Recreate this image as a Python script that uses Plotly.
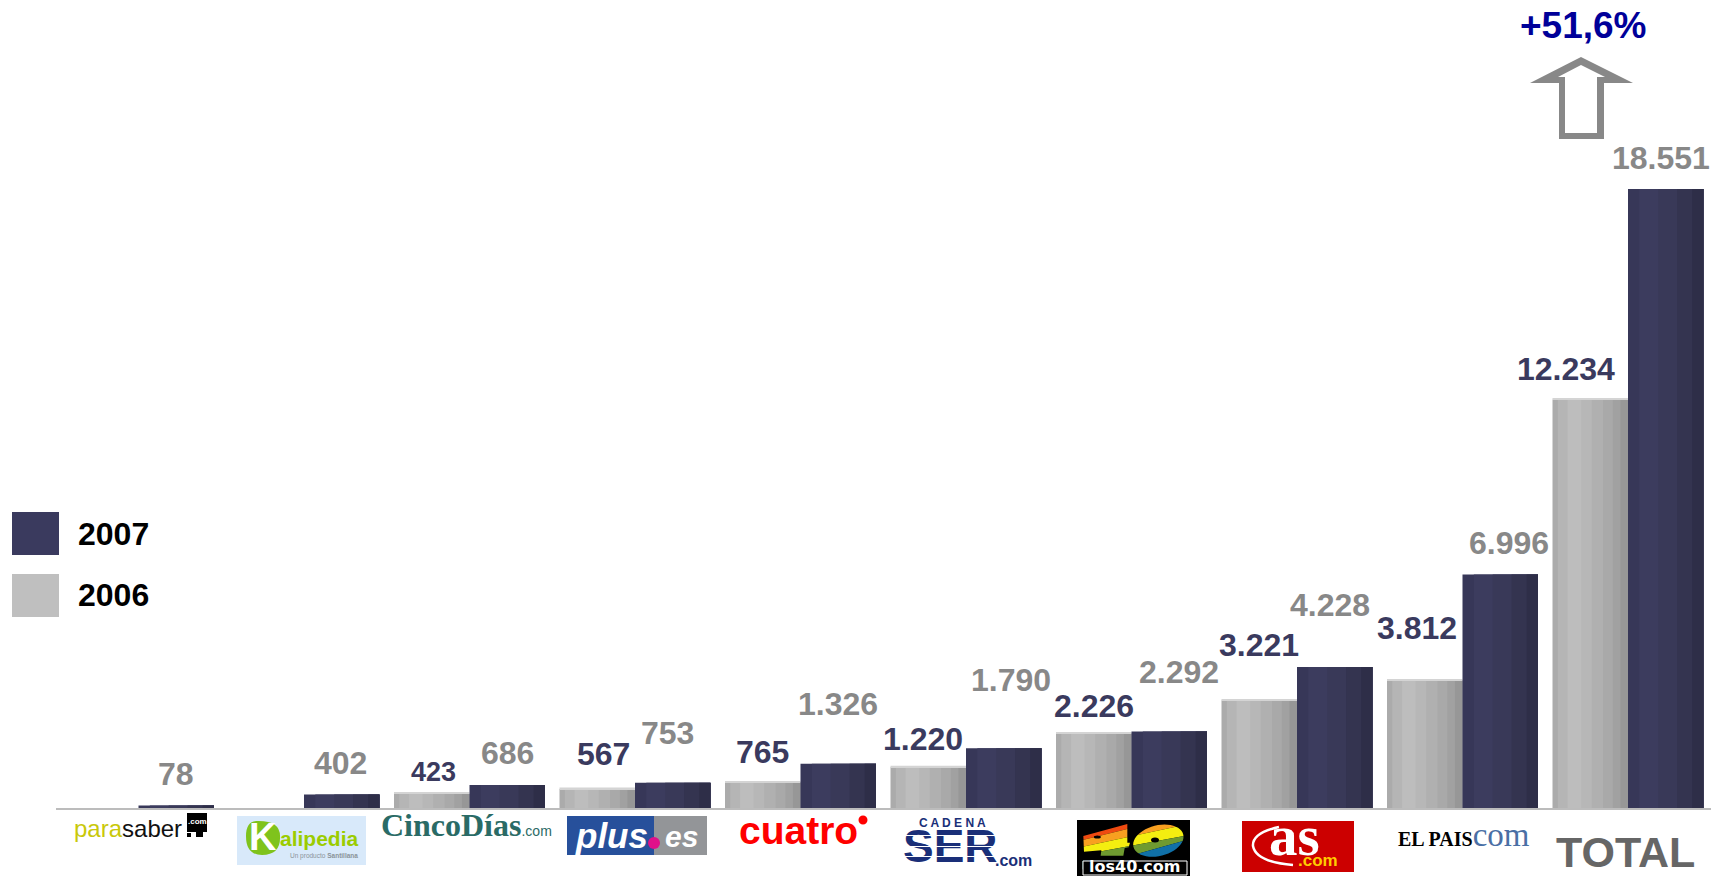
import numpy as np
import plotly.graph_objects as go

W, H = 1717, 876
categories = ["parasaber", "Kalipedia", "CincoDías", "plus.es", "cuatro", "SER", "los40", "as", "EL PAIS", "TOTAL"]
values_2006 = [None, None, 423, 567, 765, 1220, 2226, 3221, 3812, 12234]
values_2007 = [78, 402, 686, 753, 1326, 1790, 2292, 4228, 6996, 18551]
label_2006 = [None, None, "423", "567", "765", "1.220", "2.226", "3.221", "3.812", "12.234"]
label_2007 = ["78", "402", "686", "753", "1.326", "1.790", "2.292", "4.228", "6.996", "18.551"]

# label nudges in pixels (right, up) from the top centre of each bar
nudge_2006 = [None, None, (2, 22), (6, 35), (0, 30), (-5, 28), (0, 28), (0, 56), (-8, 53), (-24, 31)]
nudge_2007 = [(0, 31), (-1, 32), (0, 32), (-5, 50), (0, 60), (7, 68), (10, 60), (-5, 62), (9, 32), (-5, 31)]

BASE_Y, PLOT_L, PLOT_R = 808, 55.75, 1710.75
BAR = 75.5 / 165.5          # bar width in category units
YMAX = BASE_Y / 0.03337     # axis range so that the top of the plot is the page top

bands_2006 = [(0, "#ababab"), (.07, "#b5b5b5"), (.2, "#bdbdbd"), (.38, "#b7b7b7"),
              (.52, "#b0b0b0"), (.67, "#a9a9a9"), (.8, "#a1a1a1"), (.9, "#979797")]
bands_2007 = [(0, "#373758"), (.15, "#3c3c5e"), (.4, "#393958"), (.65, "#343450"), (.85, "#2e2e48")]
GREY, NAVY = "#888888", "#3a3a5e"
SANS = "Liberation Sans"
SERIF = "Liberation Serif"


def px(x):
    return x / W


def py(y):
    return 1 - y / H


def P(x, y):
    return f"{px(x):.5f},{py(y):.5f}"


def poly(points):
    return "M" + "L".join(P(x, y) for x, y in points) + "Z"


fig = go.Figure()
# each shade runs to the right end of the bar; the next shade paints over it, leaving no seams
for start, color in bands_2006:
    fig.add_bar(x=categories, y=values_2006, width=(1 - start) * BAR, offset=(start - 1) * BAR,
                marker=dict(color=color, line_width=0), hoverinfo="skip", showlegend=False)
cap_x = [c for c, v in zip(categories, values_2006) if v is not None]
cap_b = [v for v in values_2006 if v is not None]
fig.add_bar(x=cap_x, y=[45] * len(cap_x), base=cap_b, width=BAR, offset=-BAR,
            marker=dict(color="#d4d4d4", line_width=0), hoverinfo="skip", showlegend=False)
for start, color in bands_2007:
    fig.add_bar(x=categories, y=values_2007, width=(1 - start) * BAR, offset=start * BAR,
                marker=dict(color=color, line_width=0), hoverinfo="skip", showlegend=False)

ann = []


def text(x, y, t, size, color, family=SANS, bold=False, italic=False, anchor="center"):
    if bold:
        t = f"<b>{t}</b>"
    if italic:
        t = f"<i>{t}</i>"
    ann.append(dict(xref="paper", yref="paper", x=px(x), y=py(y), text=t, showarrow=False, xanchor=anchor,
                    yanchor="middle", font=dict(size=size, color=color, family=family),
                    borderpad=0, borderwidth=0))


for i, (v, t, n) in enumerate(zip(values_2007, label_2007, nudge_2007)):
    ann.append(dict(x=i + BAR / 2, y=v, xref="x", yref="y", text=f"<b>{t}</b>", showarrow=False, xanchor="center",
                    yanchor="middle", xshift=n[0], yshift=n[1], font=dict(size=32, color=GREY, family=SANS)))
for i, (v, t, n) in enumerate(zip(values_2006, label_2006, nudge_2006)):
    if v is None:
        continue
    ann.append(dict(x=i - BAR / 2, y=v, xref="x", yref="y", text=f"<b>{t}</b>", showarrow=False, xanchor="center",
                    yanchor="middle", xshift=n[0], yshift=n[1],
                    font=dict(size=27 if t == "423" else 32, color=NAVY, family=SANS)))

shapes = []


def rect(x0, y0, x1, y1, color):
    shapes.append(dict(type="rect", xref="paper", yref="paper", x0=px(x0), x1=px(x1), y0=py(y0), y1=py(y1),
                       fillcolor=color, line_width=0))


def path(d, fill=None, line=None, lw=0, rule="nonzero"):
    s = dict(type="path", xref="paper", yref="paper", path=d, line=dict(width=lw), fillrule=rule)
    if fill:
        s["fillcolor"] = fill
    if line:
        s["line"]["color"] = line
    shapes.append(s)


def circle(cx, cy, rx, ry, color):
    shapes.append(dict(type="circle", xref="paper", yref="paper", x0=px(cx - rx), x1=px(cx + rx),
                       y0=py(cy + ry), y1=py(cy - ry), fillcolor=color, line_width=0))


# legend
rect(12, 512, 59, 555, "#3a3a5e")
rect(12, 574, 59, 617, "#bfbfbf")
text(78, 534, "2007", 32, "#000000", bold=True, anchor="left")
text(78, 595, "2006", 32, "#000000", bold=True, anchor="left")

# growth arrow
outer = [(1581, 57), (1633, 83), (1604, 83), (1604, 139), (1559, 139), (1559, 83), (1530, 83)]
inner = [(1581, 65), (1605, 77), (1597, 77), (1597, 133), (1565, 133), (1565, 77), (1558, 77)]
path(poly(outer) + poly(inner), fill="#888888", rule="evenodd")
text(1583, 26, "+51,6%", 37, "#000099", bold=True)

# parasaber
text(128, 828, "<span style='color:#c9c80a'>para</span>saber", 24, "#111111")
rect(187, 813, 207, 832, "#000000")
text(197, 821, ".com", 8, "#ffffff", bold=True)
rect(196, 832, 203, 837, "#000000")
rect(187, 833, 191, 837, "#000000")

# Kalipedia
rect(237, 816, 366, 865, "#d8e9fa")
path("M" + P(256, 821) + "Q" + P(280, 820) + " " + P(280, 836) + "Q" + P(281, 855) + " " + P(262, 855)
     + "Q" + P(246, 855) + " " + P(246, 836) + "Q" + P(246, 822) + " " + P(256, 821) + "Z", fill="#7fc31c")
text(263, 837, "K", 38, "#ffffff", bold=True)
text(319, 838, "alipedia", 21, "#9bcc00", bold=True)
text(324, 856, "Un producto <b>Santillana</b>", 6.5, "#8a9399")

# CincoDías
text(466, 825, "<b>CincoDías</b><span style='font-size:14px;font-family:Liberation Sans'>.com</span>", 32, "#2a6b66", family=SERIF)

# plus.es
rect(567, 816, 654, 855, "#27509b")
rect(654, 816, 707, 855, "#939598")
text(611, 835, "plus", 35, "#ffffff", bold=True, italic=True)
text(681, 836, "es", 30, "#ffffff", bold=True, italic=True)
circle(654, 843, 6, 6, "#e0108a")

# cuatro
text(798, 830, "cuatro", 39, "#ff0000", bold=True)
circle(863, 820, 4.5, 4.5, "#ff0000")

# Cadena SER
text(952, 823, "C A D E N A", 12, "#1a2f78", bold=True)
text(950, 846, "SER", 46, "#1a2f78", bold=True)
for yy in (835.5, 846, 856.5):
    ann.append(dict(xref="paper", yref="paper", x=px(950), y=py(yy), text="&nbsp;", showarrow=False,
                    width=96, height=1.4, bgcolor="#ffffff", borderpad=0, borderwidth=0,
                    xanchor="center", yanchor="middle", font=dict(size=1)))
text(1013, 860, ".com", 16, "#1a2f78", bold=True)

# los40
rect(1077, 820, 1190, 876, "#000000")
X0, Y0 = 1070, 810
Z = lambda a, b: (X0 + a / 3, Y0 + b / 3)


def band(points, color):
    path(poly([Z(a, b) for a, b in points]), fill=color)


band([(38, 30), (281, 30), (38, 90)], "#ef4a10")
band([(38, 90), (281, 30), (342, 30), (342, 45), (38, 110)], "#f8a020")
band([(38, 110), (342, 45), (342, 78), (38, 134)], "#f4ee10")
band([(38, 134), (342, 78), (342, 92), (38, 178)], "#6f9a30")
band([(38, 178), (342, 92), (342, 145), (38, 145)], "#1070a8")
t = np.linspace(0, 2 * np.pi, 48, endpoint=False)
rot = np.deg2rad(-14)
ex = 265 + 77 * np.cos(t) * np.cos(rot) - 46 * np.sin(t) * np.sin(rot)
ey = 92 + 77 * np.cos(t) * np.sin(rot) + 46 * np.sin(t) * np.cos(rot)
zero = [Z(a, b) for a, b in zip(ex, ey)]
four = [Z(40, 78), Z(172, 42), Z(172, 98), Z(180, 98), Z(176, 112), Z(164, 114), Z(160, 137), Z(92, 137), Z(94, 121), Z(42, 125)]
box = [Z(36, 30), Z(346, 30), Z(346, 152), Z(36, 152)]
path(poly(box) + poly(four) + poly(zero), fill="#000000", rule="evenodd")
circle(*Z(255, 90), 4, 2.5, "#000000")
circle(*Z(82, 81), 3.5, 1.5, "#000000")
shapes.append(dict(type="rect", xref="paper", yref="paper", x0=px(1083), x1=px(1187), y0=py(875), y1=py(861),
                   line=dict(color="#ffffff", width=1), fillcolor="#000000"))
text(1135, 866, "los40.com", 16, "#ffffff", family="DejaVu Sans", bold=True)

# as
rect(1242, 821, 1354, 872, "#cc0000")
text(1294, 835, "as", 57, "#ffffff", family=SERIF, bold=True)
text(1318, 860, ".com", 17, "#ffcc00", bold=True)
path("M" + P(1279, 827) + "Q" + P(1252, 833) + " " + P(1253, 846) + "Q" + P(1256, 862) + " " + P(1293, 865),
     line="#ffffff", lw=2.5)

# EL PAIS
text(1464, 835, "<b>EL PAIS</b><span style='font-size:33px;color:#4a6fa5'>com</span>", 20, "#000000", family=SERIF)

# TOTAL
text(1625, 852, "TOTAL", 43, "#666666", bold=True)

fig.update_layout(
    width=W, height=H, autosize=False, barmode="overlay", paper_bgcolor="#ffffff", plot_bgcolor="#ffffff",
    margin=dict(l=0, r=0, t=0, b=0), showlegend=False, shapes=shapes, annotations=ann,
    xaxis=dict(domain=[px(PLOT_L), px(PLOT_R)], type="category", range=[-0.5, 9.5], showticklabels=False,
               ticks="", showgrid=False, zeroline=False, showline=True, linecolor="#bcbcbc", linewidth=2,
               categoryorder="array", categoryarray=categories),
    yaxis=dict(domain=[py(BASE_Y), 1], range=[0, YMAX], visible=False, showgrid=False, zeroline=False),
)
fig.write_html("out.html", config={"displayModeBar": False},
               post_script="document.body.style.margin='0';document.body.style.overflow='hidden';")
